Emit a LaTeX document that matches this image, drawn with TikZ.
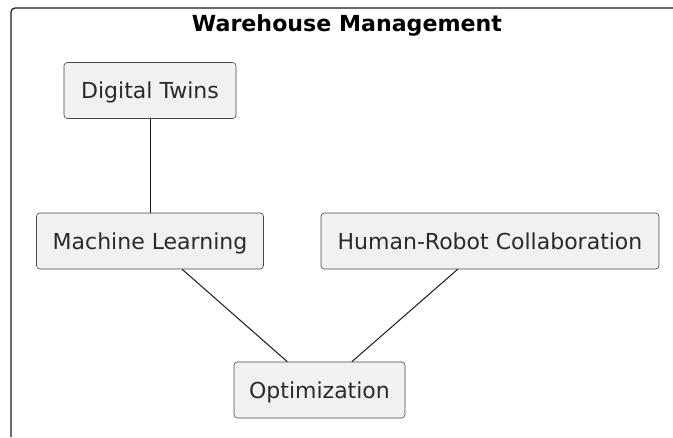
\documentclass[tikz,border=0pt]{standalone}
\usepackage{fontspec}
\setmainfont{DejaVu Sans}
\definecolor{boxfill}{HTML}{F1F1F1}
\definecolor{boxline}{HTML}{181818}
\definecolor{boxtext}{HTML}{2A2A2A}
\tikzset{
  item/.style={draw=boxline!80, fill=boxfill, rounded corners=2.5pt, line width=0.45pt,
    minimum height=42pt, inner sep=0pt, text height=12pt, text depth=0pt,
    text=boxtext, font=\fontsize{16.5}{19}\selectfont},
  link/.style={draw=boxline, line width=0.75pt},
}
\begin{document}
\begin{tikzpicture}[x=0.75pt,y=-0.75pt]
\useasboundingbox (0,0) rectangle (673,437);

\draw [boxline, line width=0.9pt, rounded corners=3pt] (11,437) -- (11,8) -- (673,8);
\node [anchor=base, font=\fontsize{16.6}{19}\selectfont\bfseries] (title) at (347,31) {Warehouse Management};

\node [item, minimum width=129pt]    (twins)    at (150,90.5)  {Digital Twins};
\node [item, minimum width=170.25pt] (learning) at (150,241)   {Machine Learning};
\node [item, minimum width=253.5pt]  (hrc)      at (490,241)   {Human-Robot Collaboration};
\node [item, minimum width=128.25pt] (optim)    at (319.5,390) {Optimization};

\draw [link] (twins) -- (learning);
\draw [link] (learning) -- (optim);
\draw [link] (hrc) -- (optim);

\end{tikzpicture}
\end{document}
